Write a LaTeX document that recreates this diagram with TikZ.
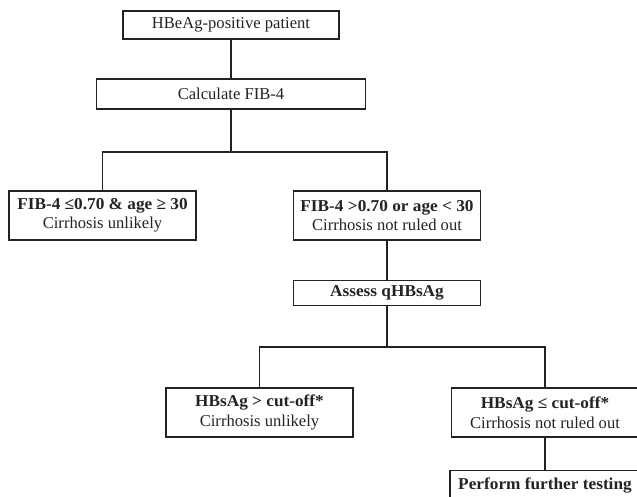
\documentclass[tikz,border=0pt]{standalone}
\usepackage{fontspec}
\setmainfont{Liberation Serif}[BoldFeatures={FakeStretch=1.04}]
\usepackage{tikz}
\usetikzlibrary{positioning}
\definecolor{ink}{RGB}{35,35,35}

\begin{document}
\begin{tikzpicture}[x=1pt,y=1pt,
    box/.style={draw=ink,line width=1.4pt,fill=white,align=center,inner sep=2pt,
      text=ink,font=\fontsize{16.6}{19.5}\selectfont},
    wide/.style={box,minimum width=187pt,minimum height=49pt},
    link/.style={draw=ink,line width=1.3pt}
  ]
  \useasboundingbox (0,0) rectangle (637,-496);

  % Start
  \node[box,minimum width=216pt,minimum height=28pt] (pat) at (231,-25)
    {HBeAg-positive patient};
  \node[box,minimum width=269pt,minimum height=30pt] (calc) at (231,-94)
    {Calculate FIB-4};

  % FIB-4 split
  \node[wide] (low) at (102.5,-215.5)
    {\textbf{FIB-4 ≤0.70 \& age ≥ 30}\\Cirrhosis unlikely};
  \node[wide] (high) at (387,-215.5)
    {\textbf{FIB-4 >0.70 or age < 30}\\Cirrhosis not ruled out};
  \node[box,minimum width=187pt,minimum height=25pt,below=39pt of high] (assess)
    {\textbf{Assess qHBsAg}};

  % qHBsAg split
  \node[wide] (above) at (259.5,-412.5)
    {\textbf{HBsAg > cut-off*}\\Cirrhosis unlikely};
  \node[wide] (below) at (545,-412.5)
    {\textbf{HBsAg ≤ cut-off*}\\Cirrhosis not ruled out};
  \node[box,minimum width=190pt,minimum height=30pt,below=32pt of below] (further)
    {\textbf{Perform further testing}};

  % Connectors
  \coordinate (forkA) at (231,-152);
  \coordinate (forkB) at (387,-347);
  \draw[link] (pat) -- (calc);
  \draw[link] (calc) -- (forkA);
  \draw[link] (low.north) |- (forkA) -| (high.north);
  \draw[link] (high) -- (assess);
  \draw[link] (assess) -- (forkB);
  \draw[link] (above.north) |- (forkB) -| (below.north);
  \draw[link] (below) -- (further);
\end{tikzpicture}
\end{document}
